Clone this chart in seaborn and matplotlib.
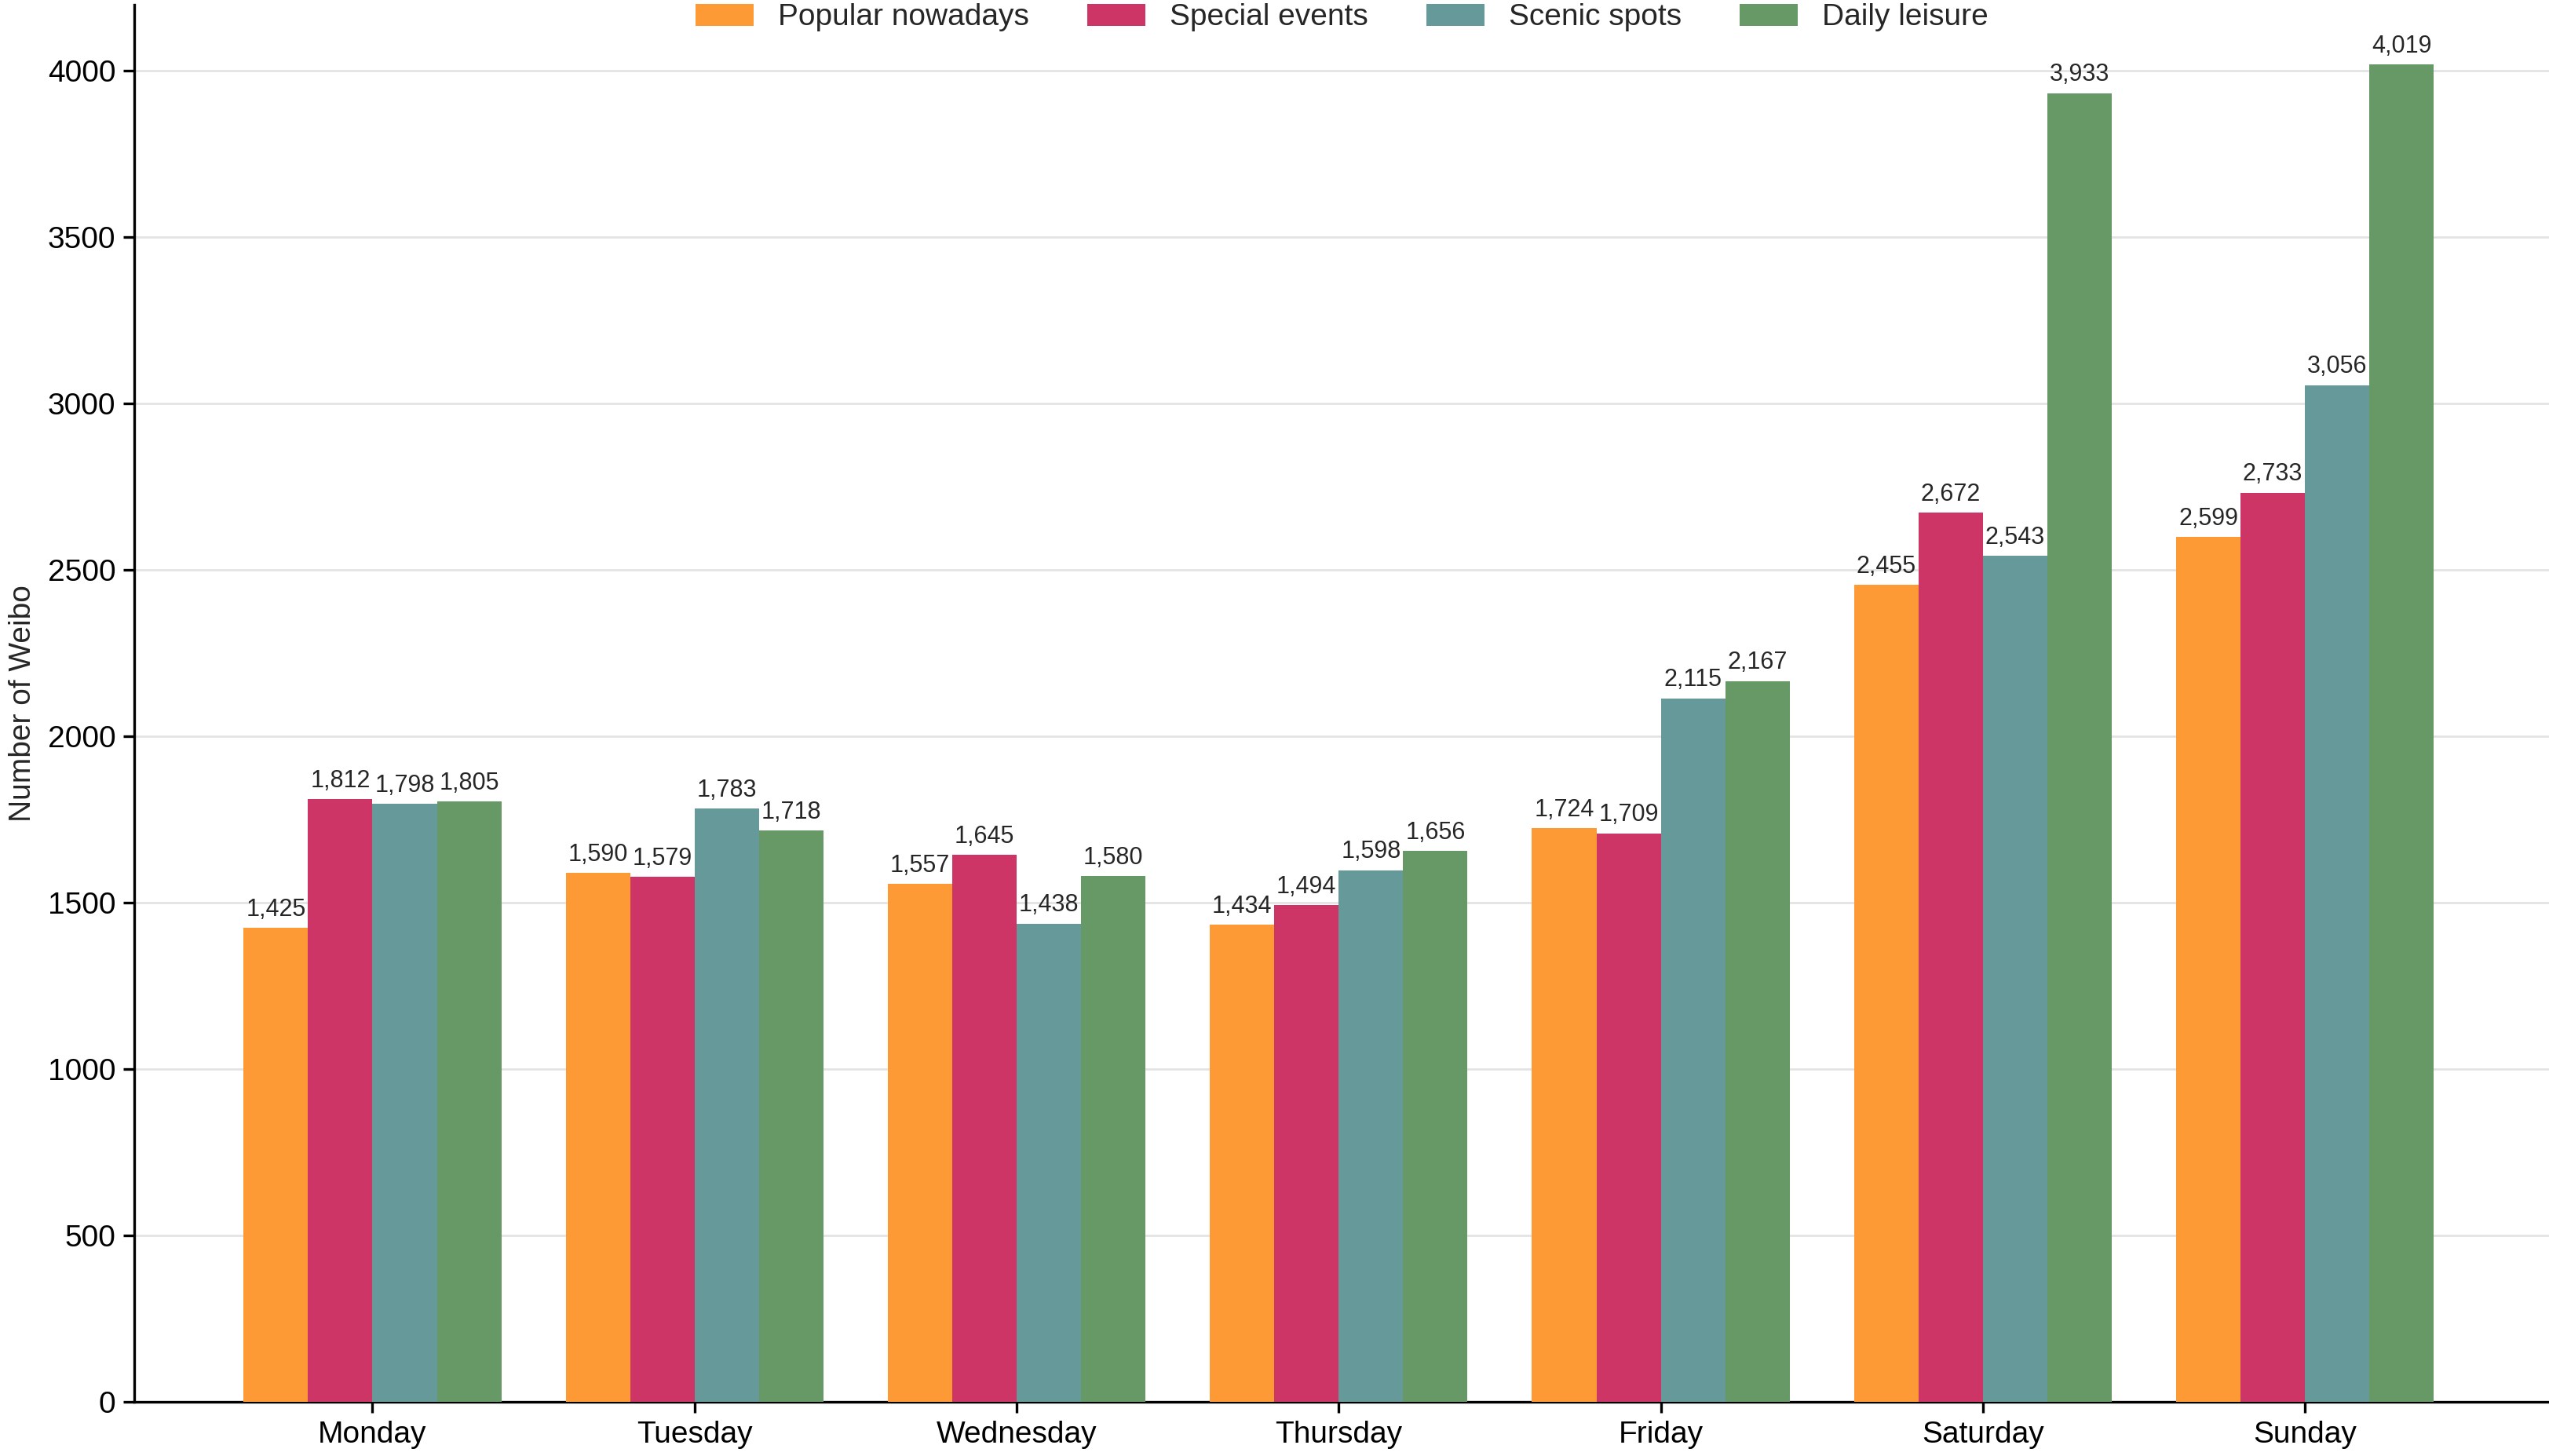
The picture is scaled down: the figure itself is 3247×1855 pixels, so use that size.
import pandas as pd
import seaborn as sns
import matplotlib.pyplot as plt

# values
days = ['Monday', 'Tuesday', 'Wednesday', 'Thursday', 'Friday', 'Saturday', 'Sunday']
categories = ['Popular nowadays', 'Special events', 'Scenic spots', 'Daily leisure']
popular = [1425, 1590, 1557, 1434, 1724, 2455, 2599]
special = [1812, 1579, 1645, 1494, 1709, 2672, 2733]
scenic = [1798, 1783, 1438, 1598, 2115, 2543, 3056]
daily = [1805, 1718, 1580, 1656, 2167, 3933, 4019]
colors = ['#FE9A36', '#CC3566', '#669999', '#669966']

df = pd.DataFrame({
    'Day': days * 4,
    'Category': [c for c in categories for _ in days],
    'Value': popular + special + scenic + daily,
})

sns.set_style('white')
plt.rcParams['font.family'] = ['Liberation Sans', 'DejaVu Sans']

fig = plt.figure(figsize=(16.24, 9.275), dpi=200)
ax = fig.add_axes([0.0526, 0.037, 0.9474, 0.96])

sns.barplot(data=df, x='Day', y='Value', hue='Category', order=days,
            hue_order=categories, palette=colors, width=0.8,
            saturation=1, linewidth=0, ax=ax, zorder=3)

# value labels on top of each bar
for cont, vals in zip(ax.containers, [popular, special, scenic, daily]):
    ax.bar_label(cont, labels=[f'{v:,}' for v in vals], padding=3, fontsize=11)

ax.set_ylim(0, 4200)
ax.set_xlim(-0.74, 6.76)
ax.set_yticks(range(0, 4001, 500))
ax.yaxis.grid(True, color='#e3e3e3', linewidth=1, zorder=0)
ax.set_axisbelow(True)
ax.set_xlabel('')
ax.set_ylabel('Number of Weibo', fontsize=14, labelpad=5)
ax.tick_params(axis='both', labelsize=14, length=5, width=1.2, direction='out',
               left=True, bottom=True, colors='black')
sns.despine(ax=ax, top=True, right=True)
for s in ['left', 'bottom']:
    ax.spines[s].set_color('black')
    ax.spines[s].set_linewidth(1.2)

ax.legend(loc='upper center', bbox_to_anchor=(0.5, 1.0105), borderaxespad=0.05,
          ncol=4, frameon=False, fontsize=14, handlelength=1.9, handleheight=0.75,
          handletextpad=0.8, columnspacing=1.9)

fig.savefig('out.png', dpi=200)
